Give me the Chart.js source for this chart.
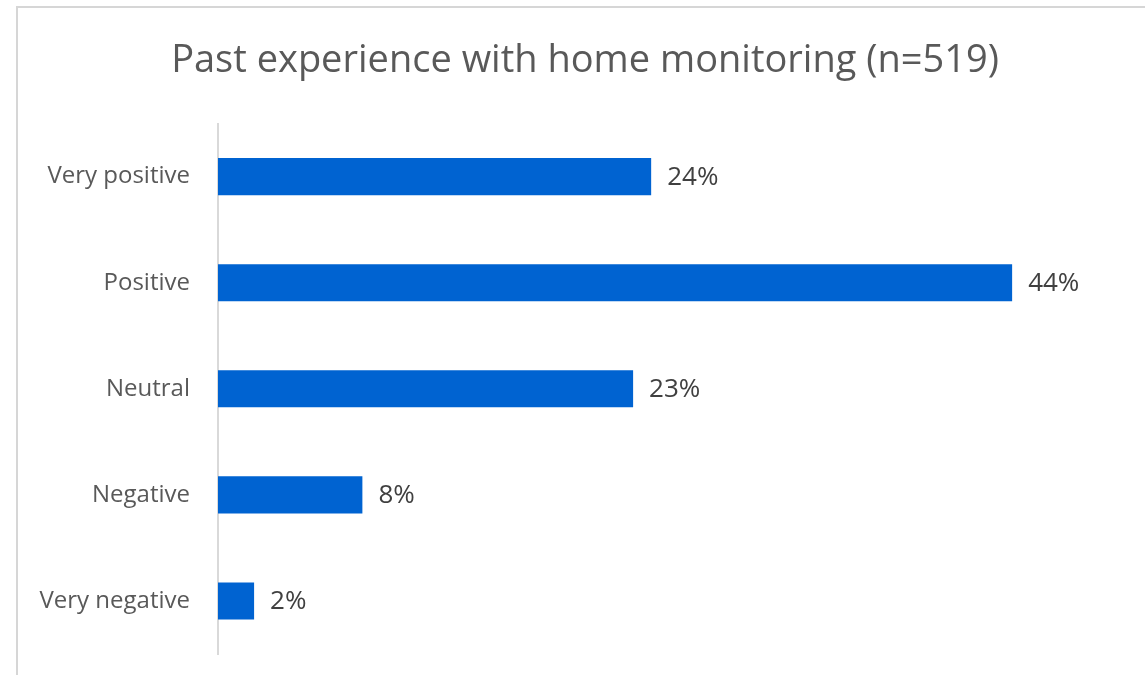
<!DOCTYPE html>
<html>
<head>
<meta charset="utf-8">
<script src="https://cdn.jsdelivr.net/npm/chart.js@4"></script>
<style>
  html, body { margin: 0; padding: 0; background: #fff; overflow: hidden; }
  #frame {
    position: absolute; left: 16px; top: 6px;
    width: 1160px; height: 700px;
    border-top: 2px solid #d6d6d6; border-left: 2px solid #d6d6d6;
  }
  #chart { position: absolute; left: 0; top: 0; }
</style>
</head>
<body>
<div id="frame"><canvas id="chart" width="1134" height="667"></canvas></div>
<script>
// answers and share of respondents (%)
let categories = ["Very positive", "Positive", "Neutral", "Negative", "Very negative"];
let shares = [24, 44, 23, 8, 2];
let chartTitle = "Past experience with home monitoring (n=519)";

let fontFamily = "'Open Sans', Arial, sans-serif";

// writes the % next to the end of each bar
let valueLabels = {
    id: 'valueLabels',
    afterDatasetsDraw(chart) {
        let ctx = chart.ctx;
        let meta = chart.getDatasetMeta(0);
        ctx.save();
        ctx.font = "26px " + fontFamily;
        ctx.fillStyle = "#404040";
        ctx.textAlign = "left";
        ctx.textBaseline = "middle";
        meta.data.forEach(function (bar, i) {
            ctx.fillText(shares[i] + "%", bar.x + 16, bar.y + 1);
        });
        ctx.restore();
    }
};

let ctx = document.getElementById('chart');
new Chart(ctx, {
    type: 'bar',
    data: {
        labels: categories,
        datasets: [{
            data: shares,
            backgroundColor: '#0063d1',
            barPercentage: 0.35,
            categoryPercentage: 1
        }]
    },
    options: {
        indexAxis: 'y',
        responsive: false,
        animation: false,
        layout: { padding: { top: 0, right: 0, bottom: 21, left: 0 } },
        plugins: {
            legend: { display: false },
            tooltip: { enabled: false },
            title: {
                display: true,
                text: chartTitle,
                color: '#595959',
                font: { family: fontFamily, size: 38, weight: 'normal' },
                padding: { top: 30, bottom: 40 }
            }
        },
        scales: {
            x: {
                display: false,
                min: 0,
                max: 51.75
            },
            y: {
                // fixed label column, no extra padding above/below the bars
                afterFit: function (scale) {
                    scale.width = 200;
                    scale.paddingTop = 0;
                    scale.paddingBottom = 0;
                },
                grid: { display: false, drawTicks: false },
                border: { display: true, color: '#d9d9d9', width: 2 },
                ticks: {
                    color: '#595959',
                    padding: 28,
                    font: { family: fontFamily, size: 24 }
                }
            }
        }
    },
    plugins: [valueLabels]
});
</script>
</body>
</html>
